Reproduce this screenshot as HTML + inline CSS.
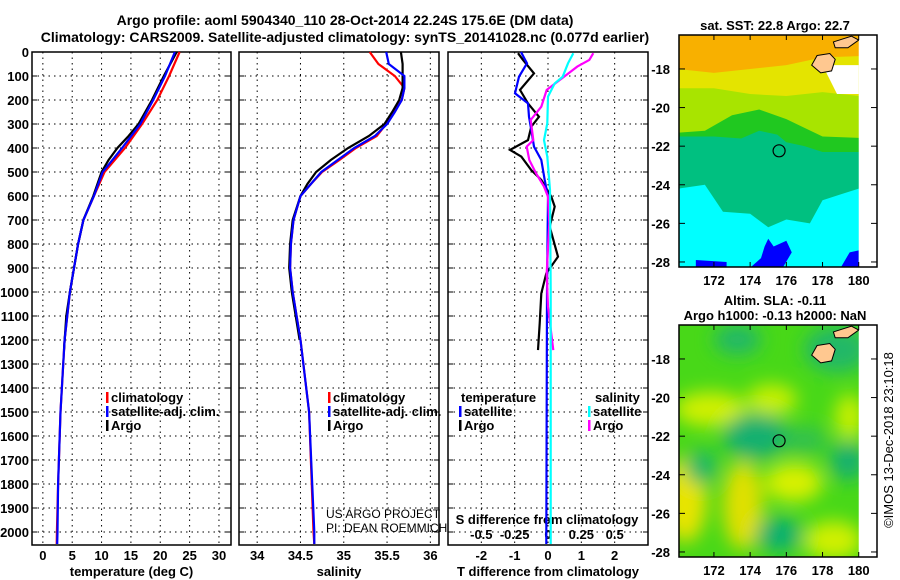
<!DOCTYPE html>
<html><head><meta charset="utf-8"><style>
body{margin:0;background:#fff;width:900px;height:580px;overflow:hidden}
svg{display:block}
text{font-family:"Liberation Sans",Arial,sans-serif;font-weight:bold;font-size:13px;fill:#000}
</style></head><body>
<svg id="c" width="900" height="580" xmlns="http://www.w3.org/2000/svg">
<defs><filter id="bl" x="-50%" y="-50%" width="200%" height="200%"><feGaussianBlur stdDeviation="9"/></filter>
<clipPath id="m1"><rect x="679" y="35" width="180" height="232"/></clipPath>
<clipPath id="m2"><rect x="679" y="325" width="180" height="232"/></clipPath></defs>
<text x="345" y="25" text-anchor="middle" style="font-size:14px">Argo profile: aoml 5904340_110 28-Oct-2014 22.24S 175.6E (DM data)</text>
<text x="345" y="42" text-anchor="middle" style="font-size:14px">Climatology: CARS2009. Satellite-adjusted climatology: synTS_20141028.nc (0.077d earlier)</text>
</svg>
<script>
// ---- data ----
const tDepth=[0,100,200,300,400,500,600,700,800,900,1000,1200,1500,1800,2000,2050];
const tClim=[23.3,21.5,19.5,16.9,14.0,10.5,8.7,6.9,6.0,5.3,4.6,3.7,3.0,2.6,2.4,2.35];
const tSat=[22.5,20.8,18.8,16.6,13.5,10.2,8.7,6.9,6.0,5.3,4.6,3.7,3.0,2.6,2.5,2.45];
const aDepth=[0,100,200,300,350,400,450,500,600,700,800,900,1000,1100,1240];
const tArgo=[22.8,20.6,18.6,16.3,14.6,12.7,11.2,10.0,8.6,6.9,6.0,5.3,4.6,4.0,3.6];
const sDepth=[0,50,100,150,200,250,300,350,400,450,500,550,600,700,800,900,1000,1200,1500,2000,2050];
const sClim=[35.30,35.40,35.59,35.70,35.67,35.58,35.49,35.38,35.14,34.95,34.75,34.62,34.50,34.42,34.39,34.38,34.41,34.50,34.60,34.65,34.66];
const sSat=[35.49,35.52,35.70,35.70,35.67,35.59,35.50,35.36,35.12,34.93,34.74,34.62,34.50,34.42,34.39,34.38,34.41,34.50,34.60,34.66,34.66];
const sArgo=[35.66,35.68,35.68,35.68,35.64,35.56,35.47,35.29,35.05,34.85,34.68,34.58,34.50,34.41,34.38,34.37,34.40,34.49,null,null,null];
const dtSatD=[0,47,103,172,214,270,325,394,450,533,603,1000,2050];
const dtSat=[-0.81,-0.63,-0.87,-0.99,-0.6,-0.57,-0.5,-0.42,-0.2,-0.1,0,-0.03,-0.05];
const dtArgoD=[5,33,89,158,214,270,311,367,408,436,492,533,603,644,728,853,922,1006,1131,1242];
const dtArgo=[-0.9,-0.75,-0.42,-0.84,-0.6,-0.27,-0.5,-0.6,-1.14,-0.8,-0.5,-0.2,0.1,0.2,0.05,0.3,-0.05,-0.2,-0.25,-0.3];
const dsSatD=[5,47,103,131,186,297,367,436,575,1000,2050];
const dsSat=[0.19,0.15,0.11,0.05,0,-0.005,-0.03,-0.005,0.015,0.02,0.02];
const dsArgoD=[5,33,61,103,158,228,283,367,394,450,505,561,603,714,922,1061,1242];
const dsArgo=[0.34,0.31,0.22,0.12,-0.01,-0.05,-0.13,-0.11,-0.16,-0.14,-0.09,-0.03,0,0.01,-0.01,0,0.04];
const depthTicks=[0,100,200,300,400,500,600,700,800,900,1000,1100,1200,1300,1400,1500,1600,1700,1800,1900,2000];
const tTicks=[0,5,10,15,20,25,30];
const sTicks=[34,34.5,35,35.5,36];
const dtTicks=[-2,-1,0,1,2];
const dsTicks=[-0.5,-0.25,0,0.25,0.5];
const dsTickLabels=["-0.5","-0.25","0","0.25","0.5"];
const lonTicks=[172,174,176,178,180];
const latTicks=[-18,-20,-22,-24,-26,-28];
const argoLon=175.6, argoLat=-22.24;

const svg=document.getElementById('c');
const NS='http://www.w3.org/2000/svg';
function el(tag,attrs,parent){const e=document.createElementNS(NS,tag);for(const k in attrs)e.setAttribute(k,attrs[k]);(parent||svg).appendChild(e);return e;}
const TOP=52,BOT=545;
const yD=d=>TOP+d*0.24;
const panels=[
 {x0:32,x1:231,v0:-1.85,v1:32.05},
 {x0:239,x1:439,v0:33.79,v1:36.1},
 {x0:448,x1:648,v0:-3,v1:3}];
function sx(p,v){return p.x0+(v-p.v0)/(p.v1-p.v0)*(p.x1-p.x0);}
function line(p,ds,vs,color,name,scale){
  let pts=[];for(let i=0;i<ds.length;i++){if(vs[i]===null)continue;pts.push(sx(p,vs[i]*(scale||1)).toFixed(1)+','+yD(ds[i]).toFixed(1));}
  const e=el('polyline',{points:pts.join(' '),fill:'none',stroke:color,'stroke-width':2.2});
  
  
}
function frame(p,ticks,labels,name,xlabel){
  const g=el('g',{});
  
  
  depthTicks.forEach(d=>{if(d>0)el('line',{x1:p.x0,x2:p.x1,y1:yD(d),y2:yD(d),stroke:'#000','stroke-dasharray':'1.5,4','stroke-width':1},g);
    el('line',{x1:p.x0,x2:p.x0+5,y1:yD(d),y2:yD(d),stroke:'#000'},g);el('line',{x1:p.x1,x2:p.x1-5,y1:yD(d),y2:yD(d),stroke:'#000'},g);});
  ticks.forEach((t,i)=>{const x=sx(p,t);el('line',{x1:x,x2:x,y1:TOP,y2:BOT,stroke:'#000','stroke-dasharray':'1.5,4'},g);
    const tl=el('text',{x:x,y:560,'text-anchor':'middle'},g);tl.textContent=labels[i];
    
    });
  el('rect',{x:p.x0,y:TOP,width:p.x1-p.x0,height:BOT-TOP,fill:'none',stroke:'#000','stroke-width':1.5},g);
  if(xlabel){const t=el('text',{x:(p.x0+p.x1)/2,y:576,'text-anchor':'middle'},g);t.textContent=xlabel;
    
    }
}
frame(panels[0],tTicks,tTicks.map(String),'temperature-panel','temperature (deg C)');
frame(panels[1],sTicks,sTicks.map(String),'salinity-panel','salinity');
frame(panels[2],dtTicks,dtTicks.map(String),'difference-panel','T difference from climatology');
depthTicks.forEach(d=>{const t=el('text',{x:29,y:yD(d)+5,'text-anchor':'end'});t.textContent=d;
  
  });
dsTicks.forEach((s,i)=>{const t=el('text',{x:sx(panels[2],s*4),y:539,'text-anchor':'middle'});t.textContent=dsTickLabels[i];
  
  });
const sdt=el('text',{x:547,y:524,'text-anchor':'middle'});sdt.textContent='S difference from climatology';



line(panels[0],tDepth,tClim,'#ff0000','temp-climatology-line');
line(panels[0],aDepth,tArgo,'#000000','temp-argo-line');
line(panels[0],tDepth,tSat,'#0000ff','temp-satellite-line');
line(panels[1],sDepth,sClim,'#ff0000','sal-climatology-line');
line(panels[1],sDepth,sArgo,'#000000','sal-argo-line');
line(panels[1],sDepth,sSat,'#0000ff','sal-satellite-line');
line(panels[2],dtArgoD,dtArgo,'#000000','tdiff-argo-line');
line(panels[2],dtSatD,dtSat,'#0000ff','tdiff-satellite-line');
line(panels[2],dsArgoD,dsArgo,'#ff00ff','sdiff-argo-line',4);
line(panels[2],dsSatD,dsSat,'#00ffff','sdiff-satellite-line',4);

function legend(x,y,items,name){
  const g=el('g',{});
  items.forEach((it,i)=>{const yy=y+i*14;
    if(it[0])el('rect',{x:x,y:yy-10,width:2.5,height:11,fill:it[0]},g);
    const t=el('text',{x:x+(it[0]?5:0),y:yy},g);t.textContent=it[1];});
}
legend(106,402,[['#ff0000','climatology'],['#0000ff','satellite-adj. clim.'],['#000','Argo']],'temp-legend');
legend(328,402,[['#ff0000','climatology'],['#0000ff','satellite-adj. clim.'],['#000','Argo']],'sal-legend');
legend(461,402,[[null,'temperature']],'tdiff-legend-title');
legend(459,416,[['#0000ff','satellite'],['#000','Argo']],'tdiff-legend');
legend(595,402,[[null,'salinity']],'sdiff-legend-title');
legend(588,416,[['#00ffff','satellite'],['#ff00ff','Argo']],'sdiff-legend');
[['US ARGO PROJECT',518],['PI: DEAN ROEMMICH',532]].forEach(a=>{const t=el('text',{x:326,y:a[1],style:'font-weight:normal;font-size:12px'});t.textContent=a[0];
  
  });

const MX0=679,LON0=170.07,PXD=18.1,PYD=19.3,LAT0=-16.24;
const mx=l=>MX0+(l-LON0)*PXD;
function map(top,name,title1,title2,kind){
  const my=la=>top+(LAT0-la)*PYD;
  const g=el('g',{'clip-path':kind==1?'url(#m1)':'url(#m2)'});
  
  
  const poly=(pts,fill,gg)=>el('polygon',{points:pts.map(p=>mx(p[0])+','+my(p[1])).join(' '),fill:fill},gg||g);
  if(kind==1){
    el('rect',{x:679,y:top,width:180,height:232,fill:'#00ffff'},g);
    poly([[170,-16],[181,-16],[181,-24.3],[180,-24.2],[179,-24.5],[178,-24.8],[177.3,-26],[176,-25.8],[175,-26.2],[174,-25.5],[172.5,-25.4],[171.5,-24],[170,-24.2]],'#00c080');
    poly([[170,-16],[181,-16],[181,-22.3],[178,-22.3],[177,-22],[176,-21.8],[175.5,-21.4],[174.5,-21.2],[173.5,-21.6],[172,-21.5],[170,-21.5]],'#20c820');
    poly([[170,-16],[181,-16],[181,-21.6],[178,-21.5],[176,-20.6],[174.5,-20.1],[173,-20.4],[171.5,-21.2],[170,-21.3]],'#a8e400');
    poly([[170,-16],[181,-16],[181,-19.5],[178,-19.2],[176,-19.4],[174,-19.3],[172,-19],[170,-19]],'#e4e400');
    poly([[170,-16],[181,-16],[181,-17.3],[178,-17.4],[176,-17.8],[174,-18],[172,-18.2],[170,-18]],'#f8b000');
    poly([[175,-26.8],[175.3,-27.2],[176,-26.9],[176.3,-27.5],[175.8,-28.3],[174,-28.3],[174.6,-27.8],[174.8,-27.2]],'#0000ff');
    poly([[171,-27.9],[172.7,-28],[172.7,-28.3],[171,-28.3]],'#0000ff');
    poly([[179.5,-27.5],[180,-27.4],[180,-28.3],[179,-28.3]],'#0000ff');
    poly([[178,-17.8],[180,-17.8],[180,-19.3],[178.8,-19.3]],'#ffffff');
  } else {
    el('rect',{x:679,y:top,width:180,height:232,fill:'#48d818'},g);
    const blobs=[[170.4,-25.3,1.2,2.2,'#e8e400'],[173.6,-25.6,1.1,2.3,'#e0e000'],[176.4,-24.4,1.6,1.0,'#d8f000'],[171.8,-20.6,2.0,0.9,'#d0f000'],[175.2,-20.1,1.4,0.8,'#c8f000'],[178.6,-27.4,1.6,1.0,'#d0f000'],[179.5,-21,0.8,1.2,'#c8f000'],
      [174.3,-22.0,1.8,1.2,'#18b070'],[175.6,-27.1,1.3,0.9,'#10b070'],[179.4,-23.3,1.0,1.0,'#18b070'],[171.3,-23.6,0.9,0.9,'#20b868'],[173.3,-17.0,1.3,0.8,'#20b868'],[178.8,-17.5,1.8,1.2,'#20b868'],[177,-22.2,1.3,0.7,'#30c050']];
    const bg=el('g',{filter:'url(#bl)'},g);
    blobs.forEach(b=>el('ellipse',{cx:mx(b[0]),cy:my(b[1]),rx:b[2]*PXD,ry:b[3]*PYD,fill:b[4]},bg));
  }
  el('rect',{x:mx(180),y:top,width:20,height:232,fill:'#fff'},g);
  poly([[177.7,-17.3],[178.4,-17.2],[178.7,-17.5],[178.5,-18.1],[177.9,-18.2],[177.4,-17.8]],'#ffc890').setAttribute('stroke','#000');
  poly([[178.6,-16.6],[179.6,-16.3],[180,-16.5],[179.4,-16.9],[178.7,-16.9]],'#ffc890').setAttribute('stroke','#000');
  const circ=el('circle',{cx:mx(argoLon),cy:my(argoLat),r:6,fill:'none',stroke:'#000','stroke-width':1.2});
  
  
  el('rect',{x:679,y:top,width:198,height:232,fill:'none',stroke:'#000','stroke-width':1.5});
  latTicks.forEach(la=>{const y=my(la);el('line',{x1:679,x2:685,y1:y,y2:y,stroke:'#000'});el('line',{x1:871,x2:877,y1:y,y2:y,stroke:'#000'});
    const t=el('text',{x:670,y:y+5,'text-anchor':'end'});t.textContent=la;
    
    });
  lonTicks.forEach(lo=>{const x=mx(lo);el('line',{x1:x,x2:x,y1:top,y2:top+5,stroke:'#000'});el('line',{x1:x,x2:x,y1:top+227,y2:top+232,stroke:'#000'});
    const t=el('text',{x:x,y:top+250,'text-anchor':'middle'});t.textContent=lo;
    
    });
  title1.forEach((s,i)=>{const t=el('text',{x:775,y:top-(title1.length-i)*15+10,'text-anchor':'middle'});t.textContent=s;
    
    });
}
map(35,'sst-map',['sat. SST: 22.8 Argo: 22.7'],null,1);
map(325,'sla-map',['Altim. SLA: -0.11','Argo h1000: -0.13 h2000: NaN'],null,2);
const cp=el('text',{x:893,y:440,'text-anchor':'middle',transform:'rotate(-90 893 440)',style:'font-weight:normal;font-size:13px'});
cp.textContent='©IMOS 13-Dec-2018 23:10:18';


</script>
</body></html>
